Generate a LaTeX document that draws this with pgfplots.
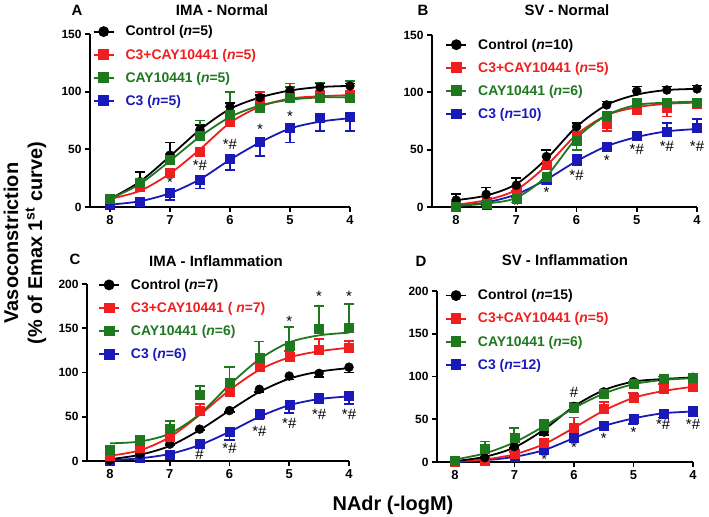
\documentclass[border=0pt]{standalone}
\usepackage{pgfplots}
\pgfplotsset{compat=1.18}
\usepackage{fontspec}
\setmainfont{Liberation Sans}
\definecolor{cred}{RGB}{240,30,30}
\definecolor{cgreen}{RGB}{30,120,30}
\definecolor{cblue}{RGB}{25,25,185}

\tikzset{ann/.style={font=\fontsize{15}{15}\selectfont, inner sep=0pt}}
\pgfplotsset{
 panel/.style={
  scale only axis, anchor=south west,
  x dir=reverse, xmin=4,
  axis x line*=bottom, axis y line*=left,
  axis line style={line width=1.7bp, -},
  tick align=outside, major tick length=5bp,
  every tick/.style={line width=1.7bp, black},
  xtick={4,5,6,7,8},
  ymin=0, clip=false,
  /pgf/number format/assume math mode=true,
  xticklabel style={font=\bfseries\fontsize{13}{15}\selectfont},
  yticklabel style={font=\bfseries\fontsize{12}{14}\selectfont},
  legend style={draw=none, fill=none, font=\bfseries\fontsize{14}{16}\selectfont,
    anchor=north west, row sep=7.5bp, inner sep=0pt,
    /tikz/every odd column/.append style={column sep=9bp}},
  legend cell align=left,
  legend image code/.code={\draw[#1, mark repeat=2, mark phase=2] plot coordinates {(0bp,0bp)(10bp,0bp)(20bp,0bp)};},
 },
 crv/.style={line width=1.8bp, smooth, mark=none, forget plot},
 mk/.style={only marks, forget plot, mark size=4.5bp,
   error bars/.cd, y explicit, y dir=#1,
   error bar style={line width=1.8bp},
   error mark options={rotate=90, line width=1.8bp, mark size=5bp}},
 lg/.style={line width=1.8bp, mark size=4.5bp, sharp plot},
}
\newcommand{\legs}[4]{%
  \addlegendimage{black, lg, mark=*}\addlegendentry{Control (\textit{n}=#1)}
  \addlegendimage{cred, lg, mark=square*}\addlegendentry{\textcolor{cred}{C3+CAY10441 (#2)}}
  \addlegendimage{cgreen, lg, mark=square*}\addlegendentry{\textcolor{cgreen}{CAY10441 (\textit{n}=#3)}}
  \addlegendimage{cblue, lg, mark=square*}\addlegendentry{\textcolor{cblue}{C3 (\textit{n}=#4)}}}

\begin{document}
\begin{tikzpicture}
\path[use as bounding box] (0,0) rectangle (709bp,517bp);

% ---------------- Panel A ----------------
\begin{axis}[panel, at={(90bp,310bp)}, width=260bp, height=173bp, xmax=8.333, ymax=150, ytick={0,50,100,150},
  legend style={at={(0.01,1.06)}}]
\legs{5}{\textit{n}=5}{5}{5}
\addplot[cblue, crv] coordinates {(8,2)(7.5,5)(7,12)(6.5,24)(6,41)(5.5,56)(5,68)(4.5,74)(4,77)};
\addplot[cred, crv] coordinates {(8,7)(7.5,14)(7,29)(6.5,50)(6,73)(5.5,87)(5,94)(4.5,96)(4,97)};
\addplot[black, crv] coordinates {(8,7)(7.5,22)(7,44)(6.5,67)(6,85)(5.5,95)(5,101)(4.5,104)(4,105)};
\addplot[cgreen, crv] coordinates {(8,7)(7.5,20)(7,40)(6.5,61)(6,78)(5.5,88)(5,93)(4.5,95)(4,95)};
\addplot[cblue, mark=square*, mk=minus] table[x=x,y=y,y error=e] {
x y e
8 2 0
7.5 5 1
7 12 6
6.5 24 8
6 42 10
5.5 57 13
5 69 13
4.5 77 11
4 78 12
};
\addplot[cred, mark=square*, mk=plus] table[x=x,y=y,y error=e] {
x y e
8 7 0
7.5 18 0
7 30 2
6.5 48 3
6 74 2
5.5 90 10
5 96 11
4.5 97 3
4 97 3
};
\addplot[black, mark=*, mk=plus] table[x=x,y=y,y error=e] {
x y e
8 7 0
7.5 22 8
7 45 11
6.5 67 4
6 87 3
5.5 95 2
5 101 3
4.5 104 3
4 105 2
};
\addplot[cgreen, mark=square*, mk=plus] table[x=x,y=y,y error=e] {
x y e
8 7 0
7.5 21 3
7 41 5
6.5 62 13
6 80 20
5.5 86 3
5 95 9
4.5 95 13
4 95 14
};
\node[ann] at (axis cs:7,21) {*};
\node[ann] at (axis cs:6.5,36) {*\#};
\node[ann] at (axis cs:6,54) {*\#};
\node[ann] at (axis cs:5.5,67) {*};
\node[ann] at (axis cs:5,79) {*};
\end{axis}

% ---------------- Panel B ----------------
\begin{axis}[panel, at={(432bp,310bp)}, width=265bp, height=172bp, xmax=8.4, ymax=150, ytick={0,50,100,150},
  legend style={at={(0.05,0.99)}}]
\legs{10}{\textit{n}=5}{6}{10}
\addplot[cblue, crv] coordinates {(8,1)(7.5,4)(7,11)(6.5,24)(6,40)(5.5,53)(5,61)(4.5,66)(4,68)};
\addplot[cred, crv] coordinates {(8,2)(7.5,6)(7,15)(6.5,36)(6,63)(5.5,80)(5,87)(4.5,90)(4,91)};
\addplot[black, crv] coordinates {(8,6)(7.5,10)(7,20)(6.5,42)(6,70)(5.5,89)(5,98)(4.5,102)(4,103)};
\addplot[cgreen, crv] coordinates {(8,1)(7.5,3)(7,8)(6.5,27)(6,60)(5.5,80)(5,89)(4.5,91)(4,92)};
\addplot[cblue, mark=square*, mk=plus] table[x=x,y=y,y error=e] {
x y e
8 0 0
7.5 2 0
7 9 0
6.5 24 0
6 40 5
5.5 53 3
5 62 1
4.5 66 7
4 69 8
};
\addplot[cred, mark=square*, mk=minus] table[x=x,y=y,y error=e] {
x y e
8 1 0
7.5 5 0
7 14 0
6.5 37 3
6 62 3
5.5 73 7
5 87 6
4.5 87 8
4 90 4
};
\addplot[black, mark=*, mk=plus] table[x=x,y=y,y error=e] {
x y e
8 6 5
7.5 11 6
7 19 6
6.5 44 6
6 70 3
5.5 89 3
5 101 4
4.5 102 3
4 103 3
};
\addplot[cgreen, mark=square*, mk=minus] table[x=x,y=y,y error=e] {
x y e
8 0 0
7.5 3 0
7 7 3
6.5 26 6
6 58 8
5.5 80 2
5 91 2
4.5 91 2
4 91 2
};
\node[ann] at (axis cs:7,1) {*};
\node[ann] at (axis cs:6.5,13) {*};
\node[ann] at (axis cs:6,28) {*\#};
\node[ann] at (axis cs:5.5,41) {*};
\node[ann] at (axis cs:5,50) {*\#};
\node[ann] at (axis cs:4.5,53) {*\#};
\node[ann] at (axis cs:4,53) {*\#};
\end{axis}

% ---------------- Panel C ----------------
\begin{axis}[panel, at={(87bp,56bp)}, width=262bp, height=177bp, xmax=8.385, ymax=200, ytick={0,50,100,150,200},
  legend style={at={(0.042,1.04)}}]
\legs{7}{ \textit{n}=7}{6}{6}
\addplot[cblue, crv] coordinates {(8,1)(7.5,3)(7,8)(6.5,18)(6,33)(5.5,50)(5,63)(4.5,70)(4,73)};
\addplot[black, crv] coordinates {(8,2)(7.5,7)(7,17)(6.5,35)(6,57)(5.5,78)(5,93)(4.5,101)(4,105)};
\addplot[cred, crv] coordinates {(8,6)(7.5,12)(7,27)(6.5,52)(6,80)(5.5,103)(5,117)(4.5,124)(4,128)};
\addplot[cgreen, crv] coordinates {(8,20)(7.5,22)(7,31)(6.5,53)(6,86)(5.5,115)(5,134)(4.5,142)(4,145)};
\addplot[cblue, mark=square*, mk=minus] table[x=x,y=y,y error=e] {
x y e
8 0 0
7.5 4 1
7 7 1
6.5 19 3
6 33 9
5.5 54 7
5 64 10
4.5 72 7
4 74 10
};
\addplot[black, mark=*, mk=minus] table[x=x,y=y,y error=e] {
x y e
8 1 0
7.5 8 1
7 19 1
6.5 36 1
6 57 2
5.5 81 3
5 96 4
4.5 99 4
4 106 6
};
\addplot[cred, mark=square*, mk=plus] table[x=x,y=y,y error=e] {
x y e
8 6 0
7.5 15 4
7 28 6
6.5 57 7
6 78 4
5.5 106 5
5 118 6
4.5 126 12
4 128 8
};
\addplot[cgreen, mark=square*, mk=plus] table[x=x,y=y,y error=e] {
x y e
8 13 3
7.5 23 5
7 37 8
6.5 75 10
6 88 18
5.5 117 18
5 130 21
4.5 149 26
4 151 26
};
\node[ann] at (axis cs:6.5,8) {\#};
\node[ann] at (axis cs:6,14) {*\#};
\node[ann] at (axis cs:5.5,33) {*\#};
\node[ann] at (axis cs:5,42) {*\#};
\node[ann] at (axis cs:4.5,53) {*\#};
\node[ann] at (axis cs:4,53) {*\#};
\node[ann] at (axis cs:5,158) {*};
\node[ann] at (axis cs:4.5,186) {*};
\node[ann] at (axis cs:4,186) {*};
\end{axis}

% ---------------- Panel D ----------------
\begin{axis}[panel, at={(437bp,55bp)}, width=256bp, height=171bp, xmax=8.3, ymax=200, ytick={0,50,100,150,200},
  legend style={at={(0.031,1.02)}}]
\legs{15}{\textit{n}=5}{6}{12}
\addplot[cblue, crv] coordinates {(8,0)(7.5,2)(7,6)(6.5,14)(6,28)(5.5,42)(5,51)(4.5,57)(4,59)};
\addplot[cred, crv] coordinates {(8,1)(7.5,3)(7,9)(6.5,21)(6,40)(5.5,60)(5,75)(4.5,83)(4,88)};
\addplot[black, crv] coordinates {(8,1)(7.5,6)(7,17)(6.5,38)(6,65)(5.5,84)(5,94)(4.5,97)(4,99)};
\addplot[cgreen, crv] coordinates {(8,3)(7.5,10)(7,23)(6.5,42)(6,63)(5.5,80)(5,91)(4.5,96)(4,98)};
\addplot[cblue, mark=square*, mk=minus] table[x=x,y=y,y error=e] {
x y e
8 0 0
7.5 2 0
7 6 0
6.5 14 5
6 29 5
5.5 43 6
5 51 7
4.5 57 5
4 60 6
};
\addplot[cred, mark=square*, mk=plus] table[x=x,y=y,y error=e] {
x y e
8 0 0
7.5 2 0
7 10 2
6.5 22 5
6 40 12
5.5 62 8
5 75 6
4.5 86 5
4 88 4
};
\addplot[black, mark=*, mk=minus] table[x=x,y=y,y error=e] {
x y e
8 1 0
7.5 5 1
7 18 2
6.5 35 3
6 65 3
5.5 82 2
5 94 1
4.5 97 1
4 99 1
};
\addplot[cgreen, mark=square*, mk=plus] table[x=x,y=y,y error=e] {
x y e
8 1 0
7.5 16 8
7 28 12
6.5 43 6
6 63 6
5.5 80 2
5 92 2
4.5 98 2
4 99 1
};
\node[ann] at (axis cs:6,81) {\#};
\node[ann] at (axis cs:6.5,3) {*};
\node[ann] at (axis cs:6,17) {*};
\node[ann] at (axis cs:5.5,28) {*};
\node[ann] at (axis cs:5,35) {*};
\node[ann] at (axis cs:4.5,44) {*\#};
\node[ann] at (axis cs:4,44) {*\#};
\end{axis}

% ---------------- Titles and labels ----------------
\begin{scope}[every node/.style={font=\bfseries\fontsize{15}{17}\selectfont, inner sep=0pt}]
\node at (77bp,507bp) {A};
\node at (222bp,507bp) {IMA - Normal};
\node at (423bp,507bp) {B};
\node at (567bp,507bp) {SV - Normal};
\node at (75bp,258bp) {C};
\node at (216bp,256bp) {IMA - Inflammation};
\node at (421bp,256bp) {D};
\node at (565bp,257bp) {SV - Inflammation};
\end{scope}
\node[rotate=90, align=center, inner sep=0pt, font=\bfseries\fontsize{20}{24}\selectfont] at (25bp,274bp)
  {Vasoconstriction\\(\% of Emax 1\textsuperscript{st} curve)};
\node[inner sep=0pt, font=\bfseries\fontsize{20}{24}\selectfont] at (393bp,12bp) {NAdr (-logM)};
\end{tikzpicture}
\end{document}
